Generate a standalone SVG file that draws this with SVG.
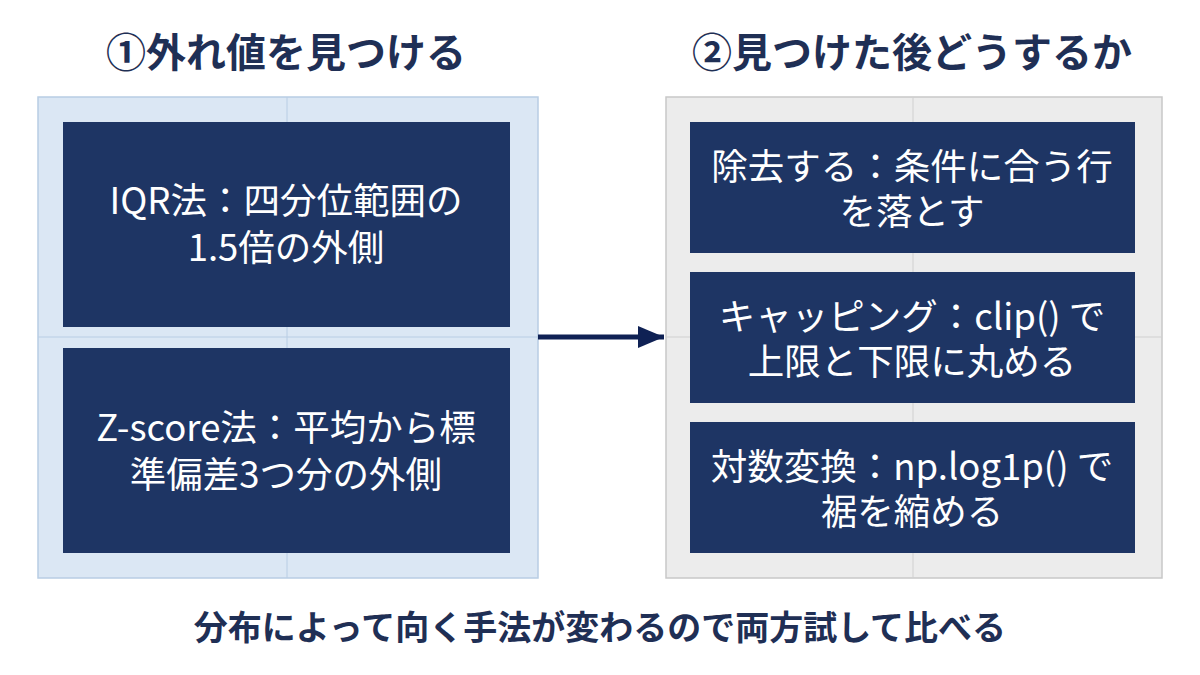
<svg xmlns="http://www.w3.org/2000/svg" width="1200" height="675" viewBox="0 0 1200 675">
<style>
.t{font-family:"Noto Sans CJK JP","Noto Sans",sans-serif;font-weight:bold;fill:#1f2f55;text-anchor:middle}
.b{fill:#1e3564}
.bt{font-family:"Noto Sans CJK JP","Noto Sans",sans-serif;font-size:36.5px;fill:#fff;text-anchor:middle}
.f{font-family:"Noto Sans CJK JP","Noto Sans",sans-serif;font-size:34px;font-weight:bold;fill:#1f2f55;text-anchor:middle}
</style>
<defs><marker id="a2" markerWidth="26" markerHeight="22" refX="26" refY="11" orient="auto" markerUnits="userSpaceOnUse"><path d="M0,0 L26,11 L0,22 Z" fill="#0f2154"/></marker></defs>
<rect width="1200" height="675" fill="#fff"/>
<text class="t" x="286" y="67" font-size="40">①外れ値を見つける</text>
<text class="t" x="912" y="67" font-size="40">②見つけた後どうするか</text>
<g id="left-panel"><rect x="38" y="97" width="500" height="481" fill="#dbe7f4" stroke="#b8cde4" stroke-width="1.5"/>
<line x1="287" y1="97" x2="287" y2="578" stroke="#b8cde4"/><line x1="38" y1="337" x2="538" y2="337" stroke="#b8cde4"/></g>
<g id="right-panel"><rect x="666" y="97" width="496" height="481" fill="#ececec" stroke="#c8c8c8" stroke-width="1.5"/>
<line x1="913" y1="97" x2="913" y2="578" stroke="#d0d0d0"/><line x1="666" y1="337" x2="1162" y2="337" stroke="#d0d0d0"/></g>
<g id="iqr"><rect class="b" x="63" y="122" width="447" height="205"/><text class="bt" x="286" y="214">IQR法：四分位範囲の</text><text class="bt" x="286" y="261">1.5倍の外側</text></g>
<g id="zscore"><rect class="b" x="63" y="348" width="447" height="205"/><text class="bt" x="286" y="441">Z-score法：平均から標</text><text class="bt" x="286" y="488">準偏差3つ分の外側</text></g>
<g id="remove"><rect class="b" x="690" y="122" width="445" height="131"/><text class="bt" x="912" y="180">除去する：条件に合う行</text><text class="bt" x="912" y="225">を落とす</text></g>
<g id="clip"><rect class="b" x="690" y="272" width="445" height="131"/><text class="bt" x="912" y="330">キャッピング：clip() で</text><text class="bt" x="912" y="375">上限と下限に丸める</text></g>
<g id="log"><rect class="b" x="690" y="422" width="445" height="131"/><text class="bt" x="912" y="480">対数変換：np.log1p() で</text><text class="bt" x="912" y="525">裾を縮める</text></g>
<g id="connectors"><line x1="538" y1="337" x2="664" y2="337" stroke="#0f2154" stroke-width="5" marker-end="url(#a2)"/></g>
<text class="f" x="600" y="640">分布によって向く手法が変わるので両方試して比べる</text>
</svg>
